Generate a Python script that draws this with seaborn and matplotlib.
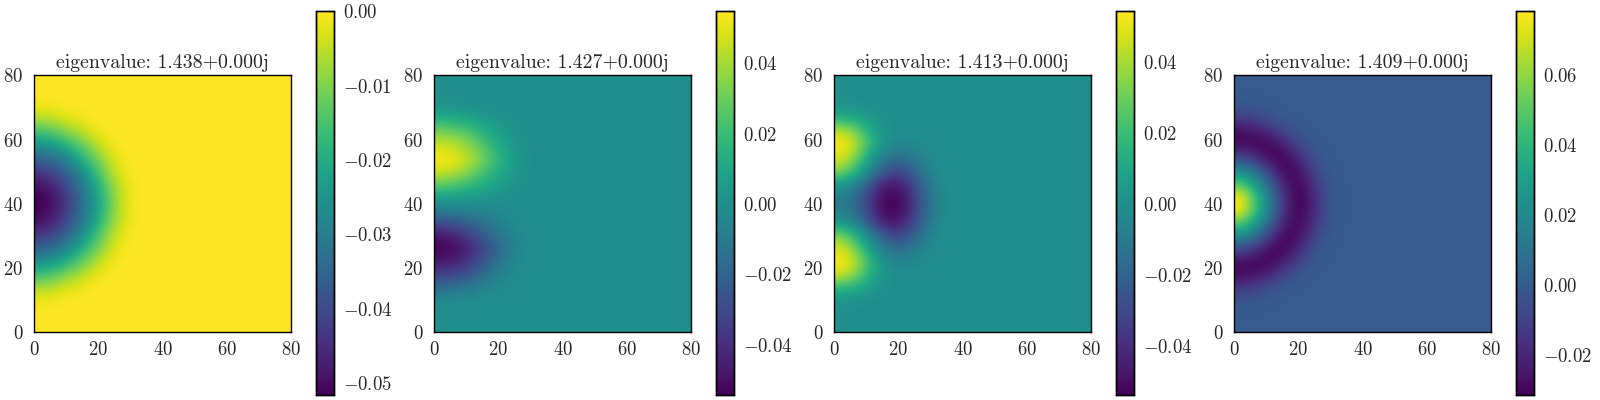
import numpy as np
import matplotlib
matplotlib.use('Agg')
import matplotlib.pyplot as plt
import seaborn as sns

# valores: celulas de 4 unidades, y = 10, 14, ... 70 (de baixo para cima), x = 2, 6, ... 34
mode_1 = [
    [-.001, -.001, 0, 0, 0, 0, 0, 0, 0],
    [-.007, -.006, -.003, -.002, 0, 0, 0, 0, 0],
    [-.016, -.014, -.010, -.007, -.003, -.0005, 0, 0, 0],
    [-.026, -.024, -.019, -.014, -.008, -.003, 0, 0, 0],
    [-.035, -.033, -.028, -.021, -.014, -.007, -.002, 0, 0],
    [-.043, -.040, -.035, -.028, -.019, -.010, -.003, 0, 0],
    [-.049, -.046, -.040, -.033, -.024, -.014, -.006, -.001, 0],
    [-.0516, -.049, -.043, -.035, -.026, -.016, -.007, -.001, 0],
    [-.0516, -.049, -.043, -.035, -.026, -.016, -.007, -.001, 0],
    [-.049, -.046, -.040, -.033, -.024, -.014, -.006, -.001, 0],
    [-.043, -.040, -.035, -.028, -.019, -.010, -.003, 0, 0],
    [-.035, -.033, -.028, -.021, -.014, -.007, -.002, 0, 0],
    [-.026, -.024, -.019, -.014, -.008, -.003, 0, 0, 0],
    [-.016, -.014, -.010, -.007, -.003, -.0005, 0, 0, 0],
    [-.007, -.006, -.003, -.002, 0, 0, 0, 0, 0],
    [-.001, -.001, 0, 0, 0, 0, 0, 0, 0],
]
mode_2 = [
    [-.002, -.002, -.001, 0, 0, 0, 0, 0, 0],
    [-.016, -.014, -.011, -.007, -.003, -.001, 0, 0, 0],
    [-.034, -.032, -.027, -.019, -.011, -.005, -.001, 0, 0],
    [-.047, -.045, -.038, -.029, -.018, -.008, -.002, 0, 0],
    [-.054, -.052, -.046, -.036, -.024, -.013, -.004, 0, 0],
    [-.048, -.044, -.036, -.027, -.017, -.009, -.003, 0, 0],
    [-.028, -.026, -.021, -.016, -.010, -.005, -.001, 0, 0],
    [-.007, -.006, -.005, -.004, -.002, -.001, 0, 0, 0],
    [.007, .006, .005, .004, .002, .001, 0, 0, 0],
    [.028, .026, .021, .016, .010, .005, .001, 0, 0],
    [.048, .044, .036, .027, .017, .009, .003, 0, 0],
    [.054, .052, .046, .036, .024, .013, .004, 0, 0],
    [.047, .045, .038, .029, .018, .008, .002, 0, 0],
    [.034, .032, .027, .019, .011, .005, .001, 0, 0],
    [.016, .014, .011, .007, .003, .001, 0, 0, 0],
    [.002, .002, .001, 0, 0, 0, 0, 0, 0],
]
mode_3 = [
    [.002, .001, 0, 0, 0, 0, 0, 0, 0],
    [.018, .014, .007, .002, 0, 0, 0, 0, 0],
    [.048, .038, .020, .005, 0, 0, 0, 0, 0],
    [.054, .046, .026, .006, -.003, -.004, -.002, 0, 0],
    [.048, .036, .012, -.005, -.015, -.015, -.008, -.002, 0],
    [.034, .020, .002, -.016, -.030, -.028, -.016, -.005, 0],
    [.004, -.004, -.020, -.041, -.048, -.042, -.026, -.009, -.001],
    [-.008, -.014, -.030, -.047, -.054, -.048, -.030, -.012, -.002],
    [-.008, -.014, -.030, -.047, -.054, -.048, -.030, -.012, -.002],
    [.004, -.004, -.020, -.041, -.048, -.042, -.026, -.009, -.001],
    [.034, .020, .002, -.016, -.030, -.028, -.016, -.005, 0],
    [.048, .036, .012, -.005, -.015, -.015, -.008, -.002, 0],
    [.054, .046, .026, .006, -.003, -.004, -.002, 0, 0],
    [.048, .038, .020, .005, 0, 0, 0, 0, 0],
    [.018, .014, .007, .002, 0, 0, 0, 0, 0],
    [.002, .001, 0, 0, 0, 0, 0, 0, 0],
]
mode_4 = [
    [-.002, -.002, -.001, 0, 0, 0, 0, 0, 0],
    [-.014, -.011, -.006, -.002, 0, 0, 0, 0, 0],
    [-.030, -.027, -.022, -.013, -.005, -.001, 0, 0, 0],
    [-.028, -.029, -.031, -.027, -.015, -.005, -.001, 0, 0],
    [-.006, -.013, -.025, -.031, -.027, -.013, -.002, 0, 0],
    [.023, .011, -.006, -.025, -.031, -.022, -.006, -.001, 0],
    [.050, .034, .011, -.013, -.029, -.027, -.011, -.002, 0],
    [.078, .050, .023, -.006, -.028, -.030, -.014, -.002, 0],
    [.078, .050, .023, -.006, -.028, -.030, -.014, -.002, 0],
    [.050, .034, .011, -.013, -.029, -.027, -.011, -.002, 0],
    [.023, .011, -.006, -.025, -.031, -.022, -.006, -.001, 0],
    [-.006, -.013, -.025, -.031, -.027, -.013, -.002, 0, 0],
    [-.028, -.029, -.031, -.027, -.015, -.005, -.001, 0, 0],
    [-.030, -.027, -.022, -.013, -.005, -.001, 0, 0, 0],
    [-.014, -.011, -.006, -.002, 0, 0, 0, 0, 0],
    [-.002, -.002, -.001, 0, 0, 0, 0, 0, 0],
]
modes = [mode_1, mode_2, mode_3, mode_4]
titles = ['eigenvalue: 1.438+0.000j', 'eigenvalue: 1.427+0.000j',
          'eigenvalue: 1.413+0.000j', 'eigenvalue: 1.409+0.000j']
vmins = [-.0516, -.0542, -.0539, -.0314]
vmaxs = [0.0, .0547, .0544, .0782]
cbar_ticks = [[-.05, -.04, -.03, -.02, -.01, 0.0],
              [-.04, -.02, 0.0, .02, .04],
              [-.04, -.02, 0.0, .02, .04],
              [-.02, 0.0, .02, .04, .06]]
axis_labels = [0, 20, 40, 60, 80]

sns.set_style('white')
plt.rcParams['mathtext.fontset'] = 'cm'
plt.rcParams['font.family'] = ['cmr10', 'DejaVu Serif']
plt.rcParams['font.size'] = 13.5

W, H = 1600, 400
fig = plt.figure(figsize=(16, 4), dpi=100)

for i in range(4):
    # campo completo: fora da regiao lida o modo e zero
    field = np.zeros((20, 20))
    field[2:18, 0:9] = np.array(modes[i])

    left = 34.3 + 400 * i
    ax = fig.add_axes([left / W, 1 - 332.3 / H, 256.6 / W, 257 / H])
    cax = fig.add_axes([(left + 281.2) / W, 1 - 395 / H, 18.4 / W, 383.7 / H])

    sns.heatmap(field, ax=ax, cbar_ax=cax, cmap='viridis', vmin=vmins[i], vmax=vmaxs[i],
                xticklabels=False, yticklabels=False, square=False)
    # suaviza as celulas por cima do heatmap
    ax.imshow(field, cmap='viridis', vmin=vmins[i], vmax=vmaxs[i], origin='lower',
              extent=(0, 20, 0, 20), interpolation='bicubic', aspect='auto', zorder=2)
    ax.set_xlim(0, 20)
    ax.set_ylim(0, 20)

    ticks = [v / 4 for v in axis_labels]
    ax.set_xticks(ticks)
    ax.set_xticklabels([f'${v}$' for v in axis_labels])
    ax.set_yticks(ticks)
    ax.set_yticklabels([f'${v}$' for v in axis_labels], rotation=0)
    ax.tick_params(length=0, labelsize=13.5, bottom=True, left=True)
    ax.tick_params(axis='x', pad=6)
    ax.tick_params(axis='y', pad=8)
    ax.set_title(titles[i], fontsize=14.3, pad=5)
    for spine in ax.spines.values():
        spine.set_visible(True)
        spine.set_color('black')
        spine.set_linewidth(1)
        spine.set_zorder(5)

    cax.set_yticks(cbar_ticks[i])
    cax.set_yticklabels([f'${v:.2f}$' for v in cbar_ticks[i]])
    cax.tick_params(length=0, labelsize=13.5, pad=6.5, right=True)
    for spine in cax.spines.values():
        spine.set_visible(True)
        spine.set_color('black')
        spine.set_linewidth(1)

fig.savefig('out.png', dpi=100)
